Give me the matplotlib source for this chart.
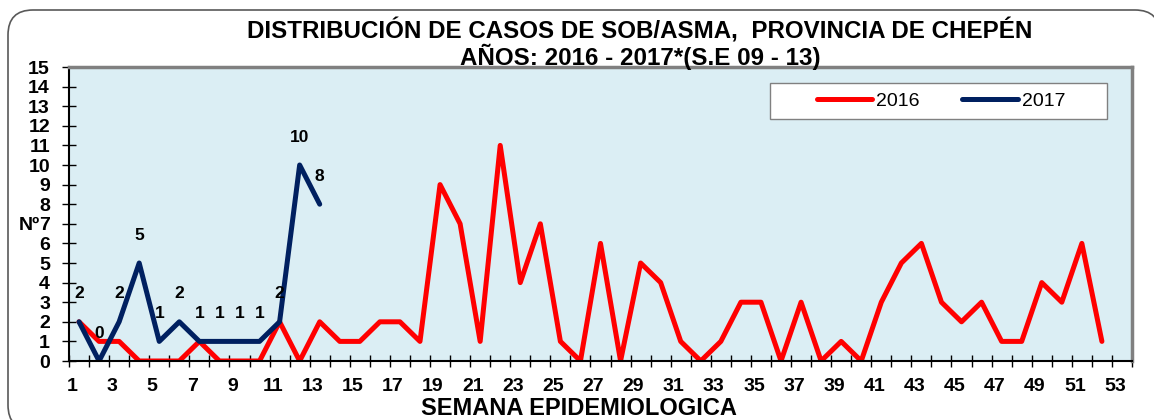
import matplotlib
matplotlib.use("Agg")
import matplotlib.pyplot as plt
from matplotlib.patches import FancyBboxPatch, Rectangle
from matplotlib import transforms

plt.rcParams["font.family"] = "Liberation Sans"

# casos por semana epidemiologica
semanas_2016 = list(range(1, 53))
casos_2016 = [2, 1, 1, 0, 0, 0, 1, 0, 0, 0, 2, 0, 2, 1, 1, 2, 2, 1, 9, 7,
              1, 11, 4, 7, 1, 0, 6, 0, 5, 4, 1, 0, 1, 3, 3, 0, 3, 0, 1, 0,
              3, 5, 6, 3, 2, 3, 1, 1, 4, 3, 6, 1]
semanas_2017 = list(range(1, 14))
casos_2017 = [2, 0, 2, 5, 1, 2, 1, 1, 1, 1, 2, 10, 8]
x_ticks = list(range(1, 54, 2))
x_labels = [str(s) for s in x_ticks]

W, H = 1154, 420
fig = plt.figure(figsize=(W / 100, H / 100), dpi=100)

# marco redondeado exterior
frame = FancyBboxPatch((8, -10), 1152, 420, boxstyle="round,pad=0,rounding_size=25",
                       transform=None, facecolor="white", edgecolor="#595959",
                       linewidth=1.2, zorder=-10)
fig.patches.append(frame)

ax = fig.add_axes([69 / W, 1 - 361 / H, (1132 - 69) / W, (361 - 67) / H])
ax.set_facecolor("#DBEEF4")

ax.plot(semanas_2016, casos_2016, color="#FF0000", lw=3.6,
        solid_capstyle="round", label="2016")
ax.plot(semanas_2017, casos_2017, color="#002060", lw=3.6,
        solid_capstyle="round", label="2017")

for s, c in zip(semanas_2017, casos_2017):
    ax.annotate(str(c), (s, c), xytext=(0, 28), textcoords="offset pixels",
                ha="center", va="center", fontsize=12.5, fontweight="bold")

ax.set_xlim(0.5, 53.5)
ax.set_ylim(0, 15)
ax.set_yticks(range(0, 16))
ax.set_yticklabels([str(v) for v in range(0, 16)], fontsize=14, fontweight="bold")
ax.tick_params(axis="y", direction="inout", length=9.4, width=1, pad=9)

ax.set_xticks([i + 0.5 for i in range(0, 54)])
ax.set_xticklabels([])
ax.tick_params(axis="x", which="major", direction="inout", length=8.6, width=1)
ax.set_xticks(x_ticks, minor=True)
ax.set_xticklabels(x_labels, minor=True, fontsize=14, fontweight="bold")
ax.tick_params(axis="x", which="minor", length=0, pad=12)
shift = transforms.ScaledTranslation(-0.07, 0, fig.dpi_scale_trans)
for lab in ax.get_xticklabels(minor=True):
    lab.set_transform(lab.get_transform() + shift)

for side in ["left", "bottom"]:
    ax.spines[side].set_color("black")
    ax.spines[side].set_linewidth(1.5)
for side in ["top", "right"]:
    ax.spines[side].set_color("#808080")
    ax.spines[side].set_linewidth(2.5)

# leyenda
box = Rectangle((0.6595, 0.823), 0.317, 0.1224, transform=ax.transAxes,
                facecolor="white", edgecolor="#808080", linewidth=1, zorder=3)
ax.add_patch(box)
leg = ax.legend(loc="center", bbox_to_anchor=(0.8203, 0.8844), ncol=2,
                frameon=False, fontsize=14, handlelength=2.86,
                handletextpad=0.2, columnspacing=2.2)
leg.set_zorder(4)

fig.text(640 / W, 1 - 38.5 / H, "DISTRIBUCIÓN DE CASOS DE SOB/ASMA,  PROVINCIA DE CHEPÉN",
         ha="center", va="baseline", fontsize=17.4, fontweight="bold")
fig.text(640 / W, 1 - 65 / H, "AÑOS: 2016 - 2017*(S.E 09 - 13)",
         ha="center", va="baseline", fontsize=17.4, fontweight="bold")
fig.text(40 / W, 1 - 226 / H, "Nº", ha="right", va="center",
         fontsize=14, fontweight="bold")
fig.text(579 / W, 1 - 415 / H, "SEMANA EPIDEMIOLOGICA", ha="center",
         va="baseline", fontsize=17, fontweight="bold")

fig.savefig("out.png", dpi=100)
